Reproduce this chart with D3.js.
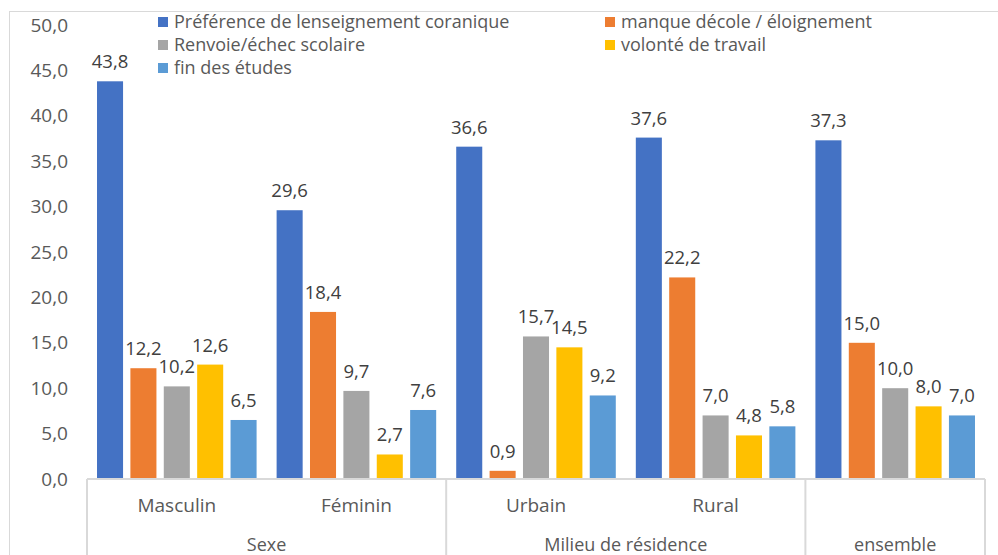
<!DOCTYPE html>
<html>
<head>
<meta charset="utf-8">
<script src="https://cdn.jsdelivr.net/npm/d3@7"></script>
<style>
  body { margin: 0; background: #fff; }
  text { font-family: "Open Sans", Lato, sans-serif; }
</style>
</head>
<body>
<div id="container"></div>
<script>
/* DATA */
const categories = ["Masculin", "Féminin", "Urbain", "Rural", "ensemble"];
// sub labels shown on the first axis row (the single-category group has none)
const catLabels = ["Masculin", "Féminin", "Urbain", "Rural", ""];
const groups = [
  { name: "Sexe", members: ["Masculin", "Féminin"] },
  { name: "Milieu de résidence", members: ["Urbain", "Rural"] },
  { name: "ensemble", members: ["ensemble"] }
];
const seriesNames = [
  "Préférence de lenseignement coranique",
  "manque décole / éloignement",
  "Renvoie/échec scolaire",
  "volonté de travail",
  "fin des études"
];
const preference = [43.8, 29.6, 36.6, 37.6, 37.3];
const manqueEcole = [12.2, 18.4, 0.9, 22.2, 15.0];
const renvoie = [10.2, 9.7, 15.7, 7.0, 10.0];
const volonte = [12.6, 2.7, 14.5, 4.8, 8.0];
const finEtudes = [6.5, 7.6, 9.2, 5.8, 7.0];
const yTicks = [0, 5, 10, 15, 20, 25, 30, 35, 40, 45, 50];

const seriesValues = [preference, manqueEcole, renvoie, volonte, finEtudes];
const colors = ["#4472C4", "#ED7D31", "#A5A5A5", "#FFC000", "#5B9BD5"];

/* LAYOUT */
const width = 998, height = 555;
const plot = { left: 87, right: 985, top: 25, bottom: 479 };
const fmt = v => d3.format(".1f")(v).replace(".", ",");

const svg = d3.select("#container").append("svg")
  .attr("width", width)
  .attr("height", height);

// chart border
svg.append("rect")
  .attr("x", 9.5).attr("y", 11.5)
  .attr("width", 1100).attr("height", 600)
  .attr("fill", "none")
  .attr("stroke", "#d9d9d9");

/* SCALES */
const x0 = d3.scaleBand()
  .domain(categories)
  .range([plot.left, plot.right]);

const x1 = d3.scaleBand()
  .domain(d3.range(seriesNames.length))
  .range([0, x0.bandwidth()])
  .paddingInner(0.22)
  .paddingOuter(0.3);

const y = d3.scaleLinear()
  .domain([0, 50])
  .range([plot.bottom, plot.top]);

/* Y AXIS (labels only) */
const yAxis = d3.axisLeft(y)
  .tickValues(yTicks)
  .tickFormat(fmt)
  .tickSize(0)
  .tickPadding(0);

const yg = svg.append("g")
  .attr("transform", "translate(68,0)")
  .call(yAxis);
yg.select(".domain").remove();
yg.selectAll("text")
  .attr("fill", "#595959")
  .style("font-size", "19px")
  .style("font-family", "'Open Sans', sans-serif");

/* BARS */
const rows = categories.map((c, i) => ({
  cat: c,
  vals: seriesValues.map((s, k) => ({ k, v: s[i] }))
}));

const catG = svg.append("g").selectAll("g")
  .data(rows)
  .join("g")
  .attr("transform", d => `translate(${x0(d.cat)},0)`);

catG.selectAll("rect")
  .data(d => d.vals)
  .join("rect")
  .attr("x", d => x1(d.k))
  .attr("width", x1.bandwidth())
  .attr("y", d => y(d.v))
  .attr("height", d => y(0) - y(d.v))
  .attr("fill", d => colors[d.k]);

catG.selectAll("text")
  .data(d => d.vals)
  .join("text")
  .attr("x", d => x1(d.k) + x1.bandwidth() / 2)
  .attr("y", d => y(d.v) - 13)
  .attr("text-anchor", "middle")
  .attr("fill", "#404040")
  .style("font-size", "18.5px")
  .text(d => fmt(d.v));

/* CATEGORY AXIS (multi-level) */
const axisG = svg.append("g").attr("stroke", "#d9d9d9").attr("stroke-width", 2);
axisG.append("line")
  .attr("x1", plot.left).attr("x2", plot.right)
  .attr("y1", plot.bottom).attr("y2", plot.bottom);

const boundaries = [plot.left];
groups.forEach(g => {
  const last = g.members[g.members.length - 1];
  boundaries.push(x0(last) + x0.bandwidth());
});
axisG.selectAll("line.sep")
  .data(boundaries)
  .join("line")
  .attr("class", "sep")
  .attr("x1", d => d).attr("x2", d => d)
  .attr("y1", plot.bottom).attr("y2", height);

svg.append("g").selectAll("text")
  .data(categories)
  .join("text")
  .attr("x", d => x0(d) + x0.bandwidth() / 2)
  .attr("y", 512)
  .attr("text-anchor", "middle")
  .attr("fill", "#595959")
  .style("font-size", "19px")
  .text((d, i) => catLabels[i]);

svg.append("g").selectAll("text")
  .data(groups)
  .join("text")
  .attr("x", g => {
    const a = x0(g.members[0]);
    const b = x0(g.members[g.members.length - 1]) + x0.bandwidth();
    return (a + b) / 2;
  })
  .attr("y", 551)
  .attr("text-anchor", "middle")
  .attr("fill", "#595959")
  .style("font-size", "18px")
  .text(g => g.name);

/* LEGEND */
const legendPos = [
  [158, 22], [605, 22],
  [158, 45], [605, 45],
  [158, 68]
];
const legend = svg.append("g").selectAll("g")
  .data(seriesNames)
  .join("g")
  .attr("transform", (d, i) => `translate(${legendPos[i][0]},${legendPos[i][1]})`);

legend.append("rect")
  .attr("x", 0).attr("y", -5)
  .attr("width", 10).attr("height", 10)
  .attr("fill", (d, i) => colors[i]);

legend.append("text")
  .attr("x", 16).attr("y", 0)
  .attr("dy", "0.35em")
  .attr("fill", "#595959")
  .style("font-size", "18px")
  .text(d => d);
</script>
</body>
</html>
